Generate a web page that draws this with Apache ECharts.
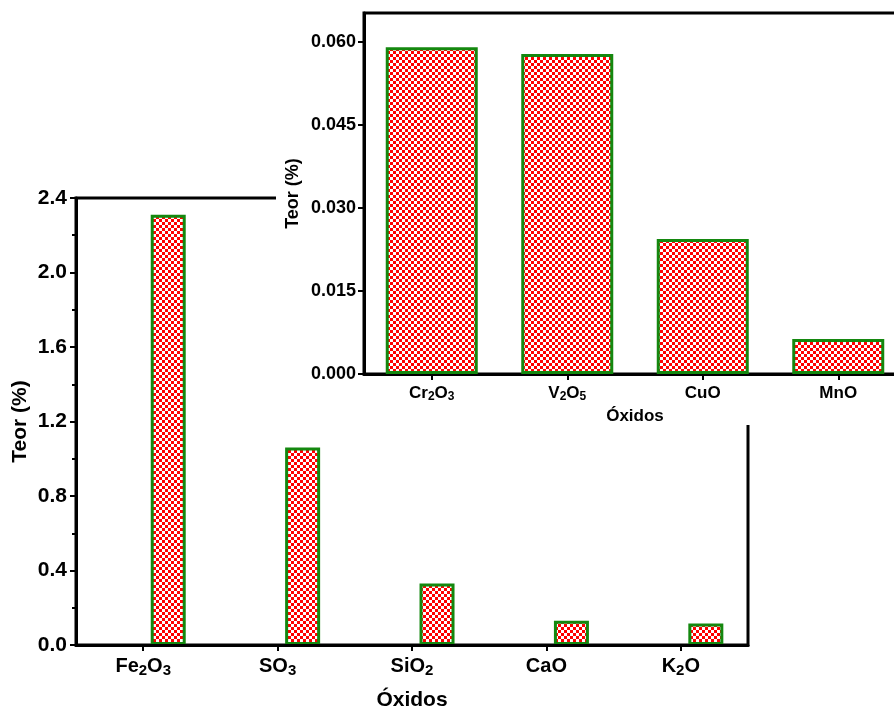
<!DOCTYPE html>
<html><head><meta charset="utf-8">
<script src="https://cdn.jsdelivr.net/npm/echarts@6/dist/echarts.min.js"></script>
<style>html,body{margin:0;padding:0;background:#fff}#c{width:894px;height:709px}</style>
</head><body><div id="c"></div>
<script>
var mainCategories = ['Fe2O3', 'SO3', 'SiO2', 'CaO', 'K2O'];
var mainValues = [2.31, 1.06, 0.33, 0.13, 0.115];
var mainYTicks = [0, 0.4, 0.8, 1.2, 1.6, 2.0, 2.4];
var insetCategories = ['Cr2O3', 'V2O5', 'CuO', 'MnO'];
var insetValues = [0.0590, 0.0578, 0.0244, 0.0063];
var insetYTicks = [0, 0.015, 0.030, 0.045, 0.060];
var insetYMinorTicks = [0.0075, 0.0225, 0.0375, 0.0525];

var FONT = 'Arial, "Liberation Sans", sans-serif';
var GREEN = '#14880f';

function makePattern(cell) {
  var c = document.createElement('canvas');
  c.width = cell * 2; c.height = cell * 2;
  var g = c.getContext('2d');
  g.fillStyle = '#ffffff'; g.fillRect(0, 0, cell * 2, cell * 2);
  g.fillStyle = '#ff0000';
  g.fillRect(0, 0, cell, cell); g.fillRect(cell, cell, cell, cell);
  return { image: c, repeat: 'repeat' };
}

function subFmt(v) {
  return v.replace(/([A-Za-z]+)|(\d+)/g, function (m, a, d) {
    return a ? '{n|' + a + '}' : '{s|' + d + '}';
  });
}
function richFor(size, subSize, drop) {
  return {
    n: { fontSize: size, fontWeight: 'bold', fontFamily: FONT, color: '#000', lineHeight: size, verticalAlign: 'top' },
    s: { fontSize: subSize, fontWeight: 'bold', fontFamily: FONT, color: '#000', lineHeight: subSize, verticalAlign: 'top', padding: [drop, 0, 0, 0] }
  };
}

var chart = echarts.init(document.getElementById('c'), null, { renderer: 'canvas' });
var axisLine = { show: true, lineStyle: { color: '#000', width: 3 } };

var option = {
  animation: false,
  backgroundColor: '#fff',
  grid: [
    { left: 76, top: 198, width: 672, height: 447, outerBoundsMode: 'none', containLabel: false, show: true, borderColor: '#000', borderWidth: 3, z: 0 },
    { left: 364, top: 13, width: 542, height: 361, outerBoundsMode: 'none', containLabel: false, show: true, borderColor: '#000', borderWidth: 3, backgroundColor: 'rgba(0,0,0,0)', z: 60 }
  ],
  graphic: [
    { type: 'rect', shape: { x: 276, y: 0, width: 620, height: 425 }, style: { fill: '#fff' }, z: 50 }
  ],
  xAxis: [
    {
      type: 'category', gridIndex: 0, data: mainCategories, z: 3,
      axisLine: axisLine,
      axisTick: { show: true, alignWithLabel: true, length: 6, lineStyle: { width: 2, color: '#000' } },
      axisLabel: { interval: 0, margin: 11, formatter: subFmt, rich: richFor(20, 15, 7) },
      name: 'Óxidos', nameLocation: 'middle', nameGap: 45,
      nameTextStyle: { fontSize: 21, fontWeight: 'bold', fontFamily: FONT, color: '#000' }
    },
    {
      type: 'category', gridIndex: 1, data: insetCategories, z: 61,
      axisLine: axisLine,
      axisTick: { show: true, alignWithLabel: true, length: 6, lineStyle: { width: 2, color: '#000' } },
      axisLabel: { interval: 0, margin: 11, formatter: subFmt, rich: richFor(17, 12, 6) },
      name: 'Óxidos', nameLocation: 'middle', nameGap: 29,
      nameTextStyle: { fontSize: 17, fontWeight: 'bold', fontFamily: FONT, color: '#000' }
    }
  ],
  yAxis: [
    {
      type: 'value', gridIndex: 0, min: 0, max: 2.4, interval: 0.4, z: 3,
      axisLine: axisLine,
      splitLine: { show: false },
      axisTick: { show: true, length: 6, lineStyle: { width: 2, color: '#000' }, customValues: mainYTicks },
      minorTick: { show: true, splitNumber: 2, length: 4, lineStyle: { width: 2, color: '#000' } },
      minorSplitLine: { show: false },
      axisLabel: { margin: 9, fontSize: 21, fontWeight: 'bold', fontFamily: FONT, color: '#000', customValues: mainYTicks,
        formatter: function (v) { return v.toFixed(1); } },
      name: 'Teor (%)', nameLocation: 'middle', nameGap: 45, nameMoveOverlap: false,
      nameTextStyle: { fontSize: 21, fontWeight: 'bold', fontFamily: FONT, color: '#000' }
    },
    {
      type: 'value', gridIndex: 1, min: 0, max: 0.0652, interval: 0.015, z: 61,
      axisLine: axisLine,
      splitLine: { show: false },
      axisTick: { show: true, length: 6, lineStyle: { width: 2, color: '#000' }, customValues: insetYTicks },
      axisLabel: { margin: 8, fontSize: 18, fontWeight: 'bold', fontFamily: FONT, color: '#000', customValues: insetYTicks,
        formatter: function (v) { return v.toFixed(3); } },
      name: 'Teor (%)', nameLocation: 'middle', nameGap: 62, nameMoveOverlap: false,
      nameTextStyle: { fontSize: 18, fontWeight: 'bold', fontFamily: FONT, color: '#000' }
    },
    {
      type: 'value', gridIndex: 1, min: 0, max: 0.0652, z: 61,
      axisLine: { show: false },
      splitLine: { show: false },
      axisTick: { show: true, length: 4, lineStyle: { width: 2, color: '#000' }, customValues: insetYMinorTicks },
      axisLabel: { show: false }
    }
  ],
  series: [
    { type: 'bar', xAxisIndex: 0, yAxisIndex: 0, data: mainValues.map(function () { return '-'; }), barWidth: 35, barGap: '43%' },
    { type: 'bar', xAxisIndex: 0, yAxisIndex: 0, data: mainValues, barWidth: 35, barGap: '43%', z: 2,
      itemStyle: { color: makePattern(3), borderColor: GREEN, borderWidth: 3 } },
    { type: 'bar', xAxisIndex: 1, yAxisIndex: 1, data: insetValues, barWidth: 92, z: 62,
      itemStyle: { color: makePattern(3), borderColor: GREEN, borderWidth: 3 } }
  ]
};
chart.setOption(option);
</script>
</body></html>
